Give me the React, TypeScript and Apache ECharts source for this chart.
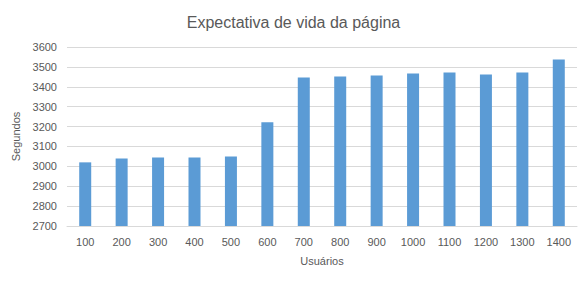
import React, { useEffect, useRef } from "react";
import * as echarts from "echarts";

const categories = ["100", "200", "300", "400", "500", "600", "700", "800", "900", "1000", "1100", "1200", "1300", "1400"];
const values = [3020, 3040, 3045, 3045, 3050, 3222, 3447, 3452, 3457, 3467, 3472, 3462, 3472, 3537];

export default function App() {
  const ref = useRef<HTMLDivElement>(null);
  useEffect(() => {
    const chart = echarts.init(ref.current!, undefined, { renderer: "svg" });
    const font = "'Liberation Sans', Arial, sans-serif";
    chart.setOption({
      animation: false,
      backgroundColor: "#ffffff",
      title: {
        text: "Expectativa de vida da página",
        left: "center",
        top: 9,
        textStyle: { fontFamily: font, fontSize: 16, fontWeight: "normal", color: "#595959" },
      },
      grid: { left: 67, right: 10, top: 47, bottom: 56 },
      xAxis: {
        type: "category",
        data: categories,
        name: "Usuários",
        nameLocation: "middle",
        nameGap: 29,
        nameTextStyle: { fontFamily: font, fontSize: 11, color: "#595959" },
        axisLine: { lineStyle: { color: "#d9d9d9" } },
        axisTick: { show: false },
        axisLabel: { fontFamily: font, fontSize: 11, color: "#595959", margin: 10 },
      },
      yAxis: {
        type: "value",
        min: 2700,
        max: 3600,
        interval: 100,
        name: "Segundos",
        nameLocation: "middle",
        nameGap: 42,
        nameTextStyle: { fontFamily: font, fontSize: 11, color: "#595959" },
        axisLine: { show: false },
        axisTick: { show: false },
        axisLabel: { fontFamily: font, fontSize: 11, color: "#595959", margin: 10, formatter: (v: number) => String(v) },
        splitLine: { lineStyle: { color: "#d9d9d9" } },
      },
      series: [
        {
          type: "bar",
          data: values,
          barWidth: 12,
          itemStyle: { color: "#5b9bd5" },
        },
      ],
    });
    return () => chart.dispose();
  }, []);
  return <div ref={ref} style={{ width: 587, height: 282, margin: -8 }} />;
}
